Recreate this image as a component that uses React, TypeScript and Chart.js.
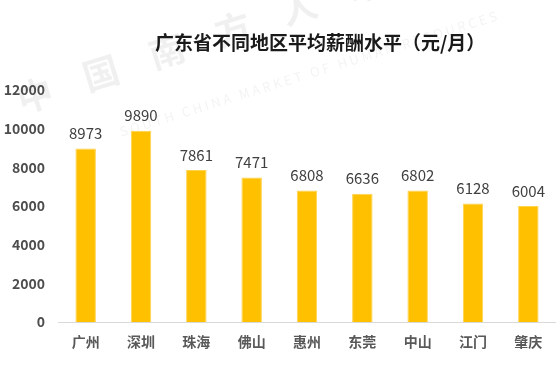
import React, { useEffect, useRef } from "react";
import { Chart, registerables } from "chart.js";

Chart.register(...registerables);

const categories = ["广州", "深圳", "珠海", "佛山", "惠州", "东莞", "中山", "江门", "肇庆"];
const salaries = [8973, 9890, 7861, 7471, 6808, 6636, 6802, 6128, 6004];
const yTicks = [0, 2000, 4000, 6000, 8000, 10000, 12000];
const titleText = "广东省不同地区平均薪酬水平（元/月）";
const watermarkChars = ["中", "国", "南", "方", "人", "才"];
const watermarkEn = "SOUTH CHINA MARKET OF HUMAN RESOURCES";

const FONT = '"Noto Sans CJK SC", "Microsoft YaHei", sans-serif';

const decorPlugin = {
  id: "decor",
  beforeDraw(chart: any) {
    const ctx = chart.ctx;
    ctx.save();
    // watermark
    ctx.fillStyle = "rgba(0,0,0,0.06)";
    ctx.font = `bold 36px ${FONT}`;
    ctx.textAlign = "center";
    ctx.textBaseline = "middle";
    watermarkChars.forEach((ch, i) => {
      ctx.save();
      ctx.translate(35 + i * 66, 95 - i * 22);
      ctx.rotate(-0.3);
      ctx.fillText(ch, 0, 0);
      ctx.restore();
    });
    ctx.save();
    ctx.translate(120, 132);
    ctx.rotate(-0.3);
    ctx.font = `13px ${FONT}`;
    ctx.textAlign = "left";
    ctx.fillStyle = "rgba(0,0,0,0.05)";
    const anyCtx = ctx as any;
    if ("letterSpacing" in anyCtx) anyCtx.letterSpacing = "3px";
    ctx.fillText(watermarkEn, 0, 0);
    ctx.restore();
    ctx.restore();
  },
  afterDraw(chart: any) {
    const ctx = chart.ctx;
    ctx.save();
    // title
    ctx.font = `bold 19px ${FONT}`;
    ctx.fillStyle = "#1a1a1a";
    ctx.textAlign = "left";
    ctx.textBaseline = "middle";
    ctx.fillText(titleText, 155, 43);
    // value labels
    const meta = chart.getDatasetMeta(0);
    ctx.font = `15px ${FONT}`;
    ctx.fillStyle = "#404040";
    ctx.textAlign = "center";
    ctx.textBaseline = "middle";
    meta.data.forEach((bar: any, i: number) => {
      ctx.fillText(String(salaries[i]), bar.x, bar.y - 15);
    });
    ctx.restore();
  },
};

export default function App() {
  const ref = useRef<HTMLCanvasElement>(null);
  useEffect(() => {
    document.body.style.margin = "0";
    const canvas = ref.current!;
    const chart = new Chart(canvas, {
      type: "bar",
      data: {
        labels: categories,
        datasets: [
          {
            data: salaries,
            backgroundColor: "#FFC000",
            borderColor: "#FFD24D",
            borderWidth: 1,
            barPercentage: 0.37,
            categoryPercentage: 1,
          },
        ],
      },
      options: {
        responsive: false,
        animation: false,
        layout: { padding: { top: 90, left: 0, right: 0, bottom: 0 } },
        plugins: {
          legend: { display: false },
          title: { display: false },
          tooltip: { enabled: false },
        },
        scales: {
          x: {
            grid: { display: false, drawTicks: false },
            border: { display: true, color: "#d9d9d9", width: 1 },
            ticks: {
              padding: 11,
              color: "#595959",
              font: { family: FONT, size: 14, weight: "bold" },
            },
            afterFit(scale: any) {
              scale.height = 58;
            },
          },
          y: {
            min: 0,
            max: 12000,
            afterBuildTicks(scale: any) {
              scale.ticks = yTicks.map((v) => ({ value: v }));
            },
            grid: { display: false, drawTicks: false },
            border: { display: false },
            ticks: {
              padding: 13,
              color: "#4d4d4d",
              font: { family: FONT, size: 14, weight: "bold" },
              callback: (v: any) => String(v),
            },
            afterFit(scale: any) {
              scale.width = 58;
            },
          },
        },
      },
      plugins: [decorPlugin],
    });
    return () => chart.destroy();
  }, []);
  return (
    <div style={{ width: 556, height: 380, background: "#fff" }}>
      <canvas ref={ref} width={556} height={380} />
    </div>
  );
}
